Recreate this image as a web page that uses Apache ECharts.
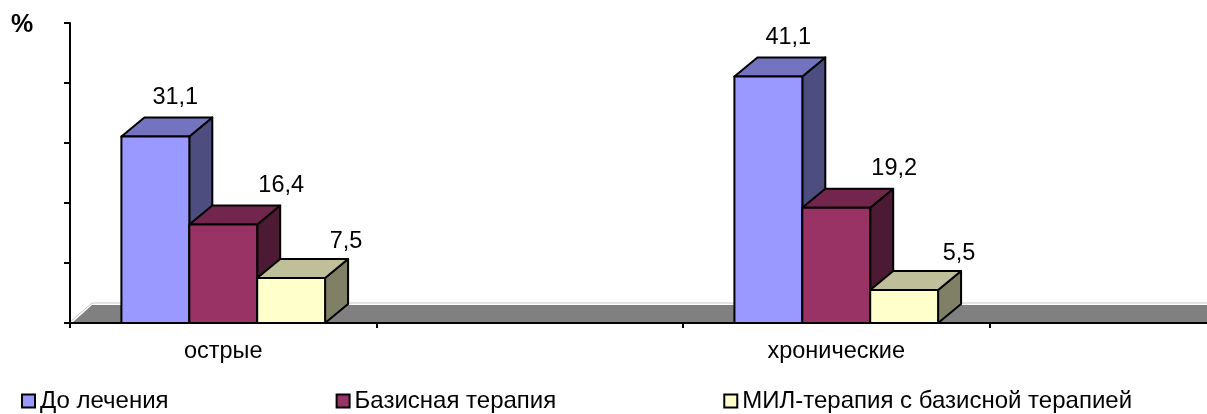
<!DOCTYPE html>
<html>
<head>
<meta charset="utf-8">
<script src="https://cdn.jsdelivr.net/npm/echarts@6/dist/echarts.min.js"></script>
<style>
html,body{margin:0;padding:0;background:#fff;}
#chart{width:1207px;height:414px;}
</style>
</head>
<body>
<div id="chart"></div>
<script>
// ---- data ----
const categories = ['острые', '', 'хронические', ''];
const seriesNames = ['До лечения', 'Базисная терапия', 'МИЛ-терапия с базисной терапией'];
const beforeTreatment = [31.1, null, 41.1, null];
const basicTherapy = [16.4, null, 19.2, null];
const milTherapy = [7.5, null, 5.5, null];
const yMin = 0, yMax = 50, yInterval = 10;

// ---- styles ----
const FONT = '"Liberation Sans", Arial, sans-serif';
const FS = 23.5;
const faceColors = [
  {front: '#9999FF', top: '#7373BF', side: '#4D4D80'},
  {front: '#993366', top: '#73264D', side: '#4D1A33'},
  {front: '#FFFFCC', top: '#BFBF99', side: '#808066'}
];
const labelShiftX = [-14, 24, 21];
const labelShiftY = [-39, -39, -36];
const DEPTH_X = 23, DEPTH_Y = 19;

function boxRenderer(idx) {
  return function (params, api) {
    const cat = api.value(0);
    const v = api.value(1);
    const base = api.coord([cat, 0]);
    const top = api.coord([cat, v]);
    const band = api.size([1, 0])[0];
    const w = band * 0.2215;
    const x0 = base[0] - 1.5 * w + idx * w;
    const x1 = x0 + w;
    const yb = base[1], yt = top[1];
    const c = faceColors[idx];
    const stroke = {stroke: '#000', lineWidth: 2, lineJoin: 'round'};
    return {
      type: 'group',
      children: [
        {type: 'polygon', shape: {points: [[x1, yt], [x1 + DEPTH_X, yt - DEPTH_Y], [x1 + DEPTH_X, yb - DEPTH_Y], [x1, yb]]},
         style: Object.assign({fill: c.side}, stroke)},
        {type: 'polygon', shape: {points: [[x0, yt], [x0 + DEPTH_X, yt - DEPTH_Y], [x1 + DEPTH_X, yt - DEPTH_Y], [x1, yt]]},
         style: Object.assign({fill: c.top}, stroke)},
        {type: 'rect', shape: {x: x0, y: yt, width: w, height: yb - yt},
         style: Object.assign({fill: c.front}, stroke)},
        {type: 'text', x: x1 + labelShiftX[idx], y: yt + labelShiftY[idx],
         style: {text: v.toFixed(1).replace('.', ','), fontSize: FS, fontFamily: FONT, fill: '#000',
                 align: 'center', verticalAlign: 'middle'}}
      ]
    };
  };
}

function toData(arr) {
  const out = [];
  arr.forEach((v, i) => { if (v !== null) out.push([i, v]); });
  return out;
}

const valueArrays = [beforeTreatment, basicTherapy, milTherapy];

const series = [{
  type: 'custom',
  name: 'floor',
  z: 1,
  silent: true,
  clip: false,
  data: [[0, 0]],
  encode: {x: 0, y: 1},
  renderItem: function (params, api) {
    const cs = params.coordSys;
    const yb = cs.y + cs.height;
    return {
      type: 'group',
      children: [
        {type: 'polyline', shape: {points: [[cs.x, yb - 1], [cs.x + 22, yb - 20], [cs.x + cs.width, yb - 20]]},
         style: {stroke: '#C8C8C8', lineWidth: 1, fill: null}},
        {type: 'polygon', shape: {points: [[cs.x + 2, yb], [cs.x + 22, yb - 18], [cs.x + cs.width, yb - 18], [cs.x + cs.width, yb]]},
         style: {fill: '#808080'}}
      ]
    };
  }
}];

valueArrays.forEach((arr, i) => {
  series.push({
    type: 'custom',
    name: seriesNames[i],
    z: 2,
    clip: false,
    data: toData(arr),
    encode: {x: 0, y: 1},
    itemStyle: {color: faceColors[i].front, borderColor: '#000', borderWidth: 2},
    renderItem: boxRenderer(i)
  });
});

const chart = echarts.init(document.getElementById('chart'), null, {renderer: 'canvas'});
chart.setOption({
  animation: false,
  backgroundColor: '#fff',
  title: {
    text: '%', left: 11, top: 13, padding: 0,
    textStyle: {fontSize: 25, fontWeight: 'bold', fontFamily: FONT, color: '#000'}
  },
  grid: {left: 70, top: 23, height: 300, width: 1226, containLabel: false, outerBoundsMode: 'none'},
  xAxis: {
    type: 'category',
    data: categories,
    z: 5,
    axisLine: {lineStyle: {color: '#000', width: 2}},
    axisTick: {show: true, length: 5, lineStyle: {color: '#000', width: 2}},
    axisLabel: {fontSize: FS, fontFamily: FONT, color: '#000', margin: 17, interval: 0},
    splitLine: {show: false}
  },
  yAxis: {
    type: 'value',
    min: yMin, max: yMax, interval: yInterval,
    z: 5,
    axisLine: {show: true, lineStyle: {color: '#000', width: 2}},
    axisTick: {show: true, length: 6, lineStyle: {color: '#000', width: 2}},
    axisLabel: {show: false},
    splitLine: {show: false}
  },
  legend: {
    left: 21, top: 389, padding: 0,
    itemGap: 167, itemWidth: 13, itemHeight: 13,
    icon: 'rect',
    textStyle: {fontSize: 24, fontFamily: FONT, color: '#000'},
    data: seriesNames.map((n, i) => ({
      name: n,
      itemStyle: {color: faceColors[i].front, borderColor: '#000', borderWidth: 2}
    }))
  },
  series: series
});
</script>
</body>
</html>
